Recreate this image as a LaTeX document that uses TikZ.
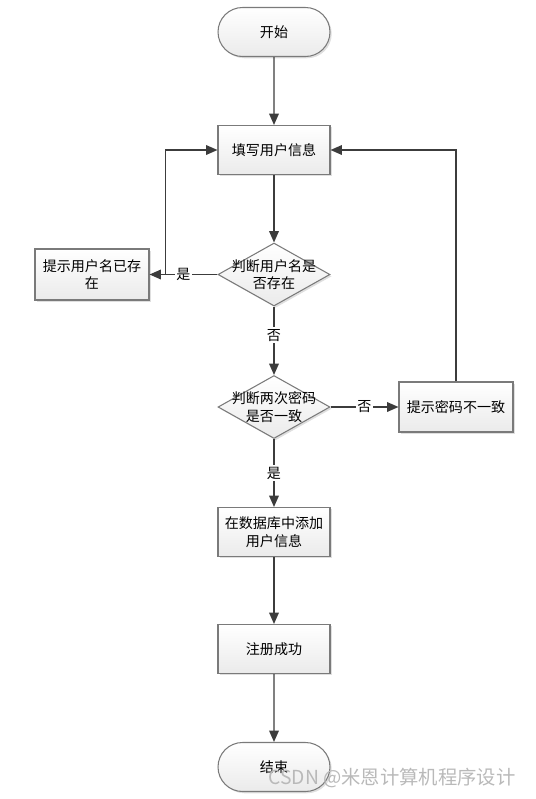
\documentclass[tikz,border=0pt]{standalone}
\usepackage{fontspec}
\setmainfont{Noto Sans CJK SC}
\usetikzlibrary{arrows.meta,shapes.geometric,shapes.misc,shadows}

\definecolor{linegray}{HTML}{3C3C3C}
\definecolor{edgegray}{HTML}{7A7A7A}

\tikzset{
	base/.style={draw=edgegray, line width=0.6pt, top color=white, bottom color=gray!16,
		drop shadow={opacity=0.25, shadow xshift=1pt, shadow yshift=-1pt},
		font=\fontsize{8}{10}\selectfont, align=center, inner sep=0pt},
	terminal/.style={base, rounded rectangle, minimum width=2.24cm, minimum height=0.98cm},
	procbox/.style={base, rectangle, minimum width=2.24cm, minimum height=0.98cm},
	decision/.style={base, diamond, minimum width=2.24cm, minimum height=1.26cm},
	flow/.style={draw=linegray, line width=0.8pt, -{Triangle[length=6.5pt,width=5.5pt]}},
	tag/.style={fill=white, font=\fontsize{8}{10}\selectfont, inner sep=1pt}
}

\begin{document}
\begin{tikzpicture}[x=0.02cm, y=-0.02cm]
	\useasboundingbox (0,0) rectangle (535,799);

	% main column
	\node[terminal] (start) at (274,32) {开始};
	\node[procbox] (fill) at (274,150) {填写用户信息};
	\node[decision] (chkname) at (274,274.5) {};
	\node[align=center, font=\fontsize{8}{10}\selectfont] at (chkname) {判断用户名是\\否存在};
	\node[decision] (chkpwd) at (274,407) {};
	\node[align=center, font=\fontsize{8}{10}\selectfont] at (chkpwd) {判断两次密码\\是否一致};
	\node[procbox] (save) at (274,532) {在数据库中添加\\用户信息};
	\node[procbox] (done) at (274,649) {注册成功};
	\node[terminal] (stop) at (274,767) {结束};

	% side boxes
	\node[procbox, minimum width=2.28cm, minimum height=1.02cm] (namewarn) at (92,274.5) {提示用户名已存\\在};
	\node[procbox, minimum width=2.28cm, minimum height=1.0cm] (pwdwarn) at (456,407) {提示密码不一致};

	% connectors
	\draw[flow] (start) -- (fill);
	\draw[flow] (fill) -- (chkname);
	\draw[flow] (chkname) -- node[tag, pos=0.42] {否} (chkpwd);
	\draw[flow] (chkpwd) -- node[tag, pos=0.5] {是} (save);
	\draw[flow] (save) -- (done);
	\draw[flow] (done) -- (stop);

	\draw[flow] (chkname.west) -- node[tag, pos=0.5] {是} (namewarn.east);
	\draw[flow] (namewarn.east) -- ++(16,0) |- (fill.west);
	\draw[flow] (chkpwd.east) -- node[tag, pos=0.5] {否} (pwdwarn.west);
	\draw[flow] (pwdwarn.north) |- (fill.east);

	% watermark
	\node[text=gray!55, font=\fontsize{11}{13}\selectfont, inner sep=0pt] (mark) at (392,778) {CSDN @米恩计算机程序设计};
\end{tikzpicture}
\end{document}
